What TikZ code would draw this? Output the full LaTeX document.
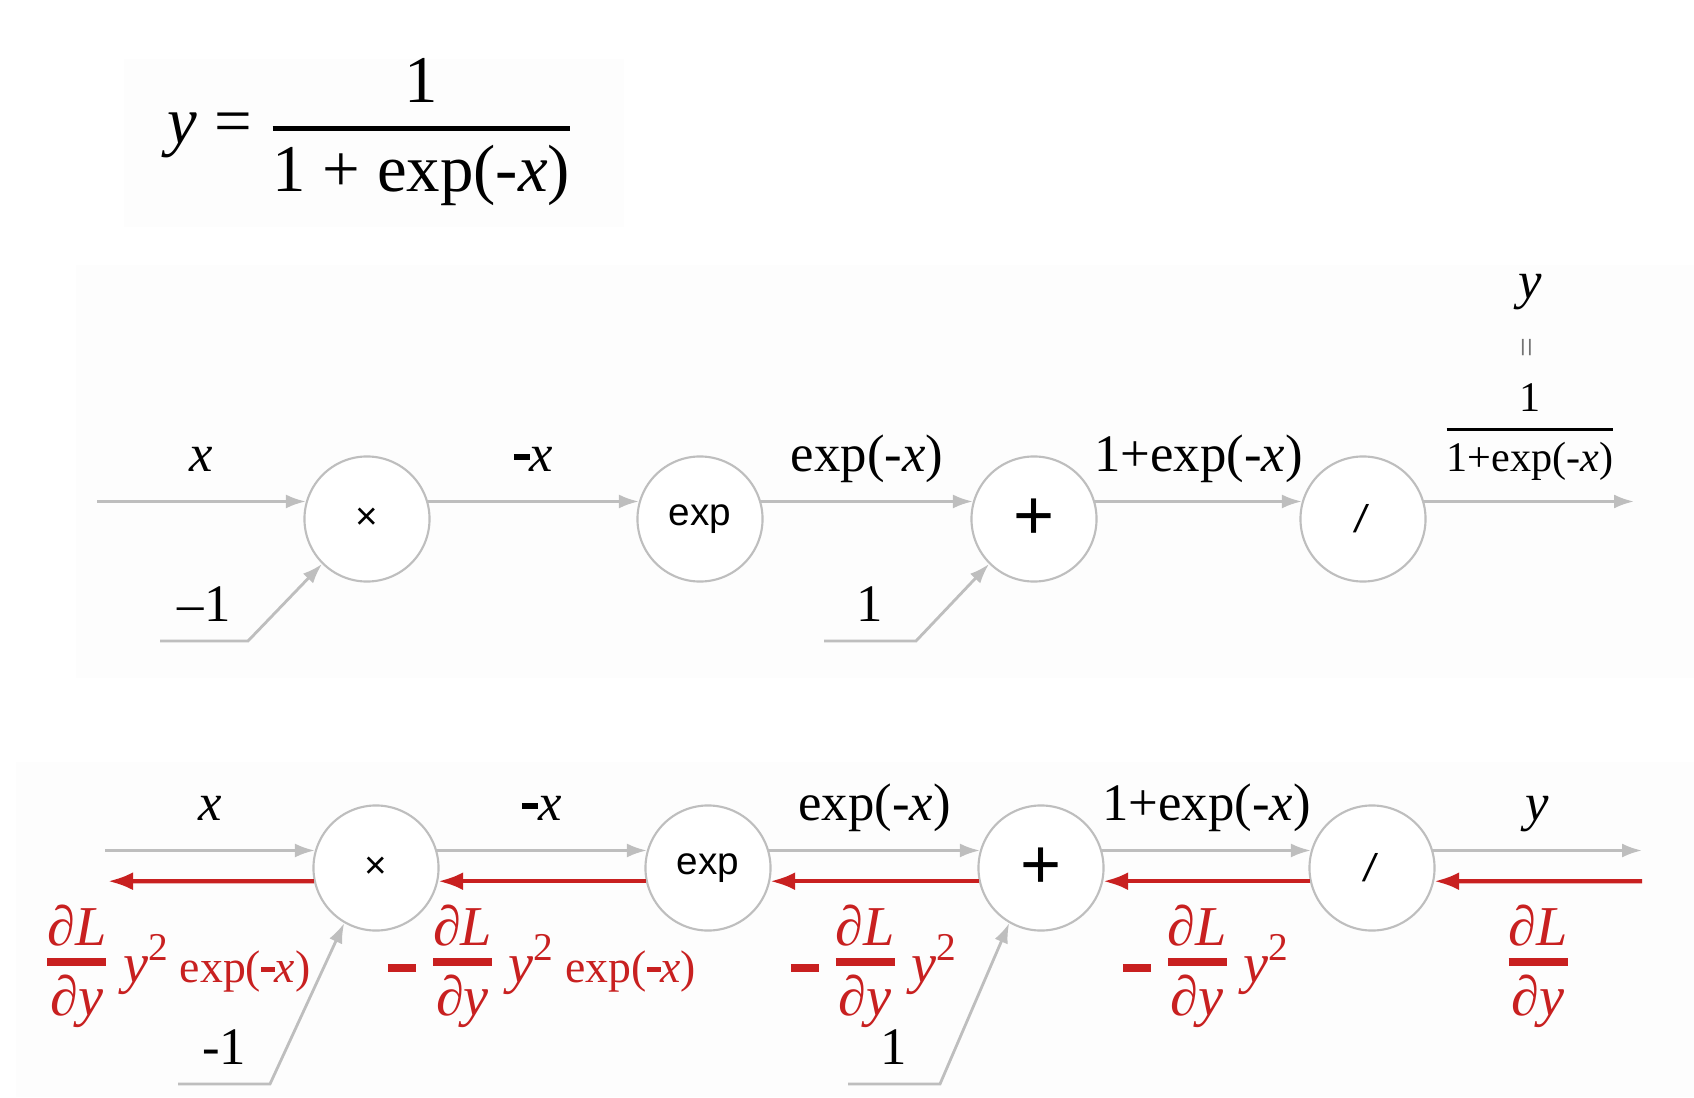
\documentclass[tikz,border=0pt]{standalone}
\usepackage{fontspec}
\setmainfont{Liberation Serif}
\newfontfamily\opfont{Liberation Sans}
\usepackage{amsmath}
\usepackage{graphicx}
\usetikzlibrary{arrows.meta, positioning}

\definecolor{fwdgray}{RGB}{190,190,190}
\definecolor{backred}{RGB}{200,32,32}
\definecolor{panelgray}{RGB}{253,253,253}

\newcommand{\xv}{\textit{x}}
\newcommand{\yv}{\textit{y}}
\newcommand{\mdash}{\rule[0.22em]{0.3em}{0.12em}}
\newcommand{\dLdy}{\vcenter{\offinterlineskip\halign{\hfil##\hfil\cr
    \strut\textit{∂L}\cr\noalign{\kern-2pt\hrule height 2pt\kern1pt}
    \strut\textit{∂y}\cr}}}
\newcommand{\negbar}{\rule[0.18em]{0.5em}{0.15em}\;}
\newcommand{\ysq}{\;\text{\textit{y}}^{\text{2}}}
\newcommand{\expmx}{\,\text{\fontsize{13}{15}\selectfont exp(\mdash\textit{x})}}

\begin{document}
\begin{tikzpicture}[x=0.01cm, y=-0.01cm,
    opnode/.style={circle, draw=fwdgray, line width=0.6pt, minimum size=1.25cm, inner sep=0pt, fill=white, font=\opfont\fontsize{11}{13}\selectfont},
    edgelabel/.style={font=\fontsize{15}{18}\selectfont, anchor=base, yshift=0.3cm},
    inlabel/.style={font=\fontsize{15}{18}\selectfont, above=0.06cm},
    grad/.style={text=backred, font=\fontsize{16}{19}\selectfont, yshift=-0.86cm},
    fwd/.style={draw=fwdgray, line width=0.8pt, -{Latex[length=0.2cm, width=0.14cm]}},
    back/.style={draw=backred, line width=1.2pt, -{Latex[length=0.25cm, width=0.18cm]}}
]
\useasboundingbox (0,0) rectangle (1694,1097);

% faint panels
\fill[panelgray] (124,59) rectangle (624,227);
\fill[panelgray] (76,265) rectangle (1694,678);
\fill[panelgray] (16,762) rectangle (1694,1097);

% the function
\node[font=\fontsize{19}{22}\selectfont] (sigmoid) at (371,132)
    {$\text{\yv\ = }\genfrac{}{}{1.3pt}{0}{\text{1}}{\text{1 + exp(-\xv)}}$};

% forward graph
\node[opnode] (mul) at (367,519) {×};
\node[opnode] (expo) at (700,519) {exp};
\node[opnode, font=\opfont\fontsize{20}{22}\selectfont] (add) at (1034,519) {+};
\node[opnode] (div) at (1363,519) {\textit{/}};

\coordinate (xin) at (97,501.5);
\coordinate (yout) at (1634,501.5);
\coordinate (mone) at (160,641);
\coordinate (one) at (824,641);

\draw[fwd] (xin) -- node[edgelabel] {\xv} (mul.164);
\draw[fwd] (mul.16) -- node[edgelabel] {\mdash\xv} (expo.164);
\draw[fwd] (expo.16) -- node[edgelabel] {exp(-\xv)} (add.164);
\draw[fwd] (add.16) -- node[edgelabel] {1+exp(-\xv)} (div.164);
\draw[fwd] (div.16) -- (yout);
\draw[fwd] (mone) -- node[inlabel] {–1} ++(88,0) -- (mul.225);
\draw[fwd] (one) -- node[inlabel] {1} ++(92,0) -- (add.225);

% output value
\node[font=\fontsize{15}{18}\selectfont] (ysym) at (1530,292) {\yv};
\node[rotate=90, text=black!55, font=\fontsize{10}{12}\selectfont] (yeq) at (1530,348) {=};
\node[font=\fontsize{12}{14}\selectfont] (yfrac) at (1530,432)
    {$\genfrac{}{}{1pt}{0}{\text{1}}{\text{1+exp(-\xv)}}$};

% backward graph
\node[opnode] (mulb) at (376,868) {×};
\node[opnode] (expb) at (708,868) {exp};
\node[opnode, font=\opfont\fontsize{20}{22}\selectfont] (addb) at (1041,868) {+};
\node[opnode] (divb) at (1372,868) {\textit{/}};

\coordinate (xinb) at (105,850.5);
\coordinate (youtb) at (1642,850.5);
\coordinate (rin) at (1642,881.2);
\coordinate (rout) at (108,881.2);
\coordinate (moneb) at (178,1084);
\coordinate (oneb) at (848,1084);

\draw[fwd] (xinb) -- node[edgelabel] {\xv} (mulb.164);
\draw[fwd] (mulb.16) -- node[edgelabel] {\mdash\xv} (expb.164);
\draw[fwd] (expb.16) -- node[edgelabel] {exp(-\xv)} (addb.164);
\draw[fwd] (addb.16) -- node[edgelabel] {1+exp(-\xv)} (divb.164);
\draw[fwd] (divb.16) -- node[edgelabel] {\yv} (youtb);
\draw[fwd] (moneb) -- node[inlabel] {-1} ++(92,0) -- (mulb.240);
\draw[fwd] (oneb) -- node[inlabel] {1} ++(92,0) -- (addb.240);

\draw[back] (rin) -- node[grad] {$\dLdy$} (divb.-12);
\draw[back] (divb.192) -- node[grad] {$\negbar\dLdy\ysq$} (addb.-12);
\draw[back] (addb.192) -- node[grad] {$\negbar\dLdy\ysq$} (expb.-12);
\draw[back] (expb.192) -- node[grad] {$\negbar\dLdy\ysq\expmx$} (mulb.-12);
\draw[back] (mulb.192) -- node[grad, xshift=-0.32cm] {$\dLdy\ysq\expmx$} (rout);

\end{tikzpicture}
\end{document}
